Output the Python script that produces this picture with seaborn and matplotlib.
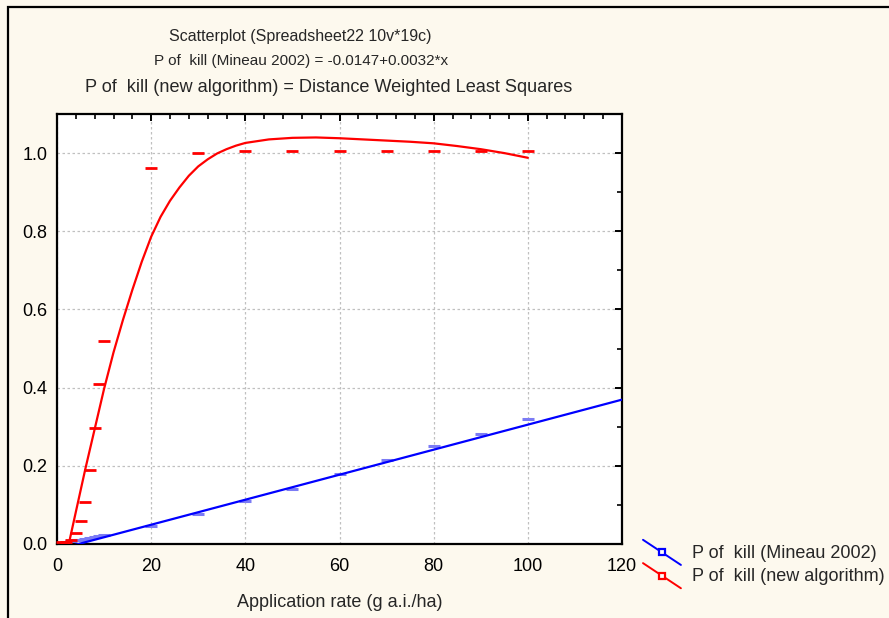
import numpy as np
import pandas as pd
import matplotlib
matplotlib.use("Agg")
import matplotlib.pyplot as plt
import seaborn as sns
from matplotlib.lines import Line2D
from matplotlib.legend_handler import HandlerLine2D
from matplotlib.patches import Rectangle
from matplotlib.ticker import MultipleLocator

# ---- data ----
rate = [1, 2, 3, 4, 5, 6, 7, 8, 9, 10, 20, 30, 40, 50, 60, 70, 80, 90, 100]
p_new = [0.005, 0.005, 0.010, 0.028, 0.060, 0.107, 0.190, 0.296, 0.410, 0.520,
         0.962, 1.000, 1.005, 1.005, 1.005, 1.005, 1.005, 1.005, 1.005]
p_mineau = [0.002, 0.004, 0.007, 0.009, 0.011, 0.013, 0.015, 0.018, 0.020, 0.023,
            0.046, 0.076, 0.110, 0.140, 0.179, 0.216, 0.251, 0.282, 0.319]

# fitted linear model: -0.0147 + 0.0032*x, endpoints of the plotted range
lin_x = [0, 120]
lin_y = [-0.0147, -0.0147 + 0.0032 * 120]

# distance weighted least squares curve
dwls_x = [2.5, 4, 6, 8, 10, 12, 14, 16, 18, 20, 22, 24, 26, 28, 30, 32, 34, 36,
          38, 40, 45, 50, 55, 60, 65, 70, 75, 80, 85, 90, 95, 100]
dwls_y = [0.0, 0.082, 0.191, 0.294, 0.397, 0.49, 0.573, 0.65, 0.722, 0.786,
          0.837, 0.878, 0.912, 0.942, 0.966, 0.984, 0.999, 1.01, 1.019, 1.026,
          1.035, 1.039, 1.04, 1.038, 1.035, 1.032, 1.029, 1.025, 1.018, 1.01,
          1.0, 0.988]

x_ticks = [0, 20, 40, 60, 80, 100, 120]
y_ticks = [0.0, 0.2, 0.4, 0.6, 0.8, 1.0]

title_lines = ["Scatterplot (Spreadsheet22 10v*19c)",
               "P of  kill (Mineau 2002) = -0.0147+0.0032*x",
               "P of  kill (new algorithm) = Distance Weighted Least Squares"]
legend_labels = ["P of  kill (Mineau 2002)", "P of  kill (new algorithm)"]
x_label = "Application rate (g a.i./ha)"

# ---- style ----
sns.set_style("white")
plt.rcParams['font.family'] = ['Liberation Sans', 'DejaVu Sans']

BG = '#FDF9EE'
RED = '#FF0000'
BLUE = '#0000FF'
LBLUE = '#7B7BF5'
FS = 13

W, H = 889, 618
fig = plt.figure(figsize=(W / 100, H / 100), dpi=100, facecolor=BG)
ax = fig.add_axes([57 / W, 1 - 544 / H, (622 - 57) / W, (544 - 114) / H])
ax.set_facecolor('white')

df_pts = pd.DataFrame({'rate': rate, 'new': p_new, 'mineau': p_mineau})
df_lin = pd.DataFrame({'x': lin_x, 'y': lin_y})
df_dwls = pd.DataFrame({'x': dwls_x, 'y': dwls_y})

sns.lineplot(data=df_lin, x='x', y='y', ax=ax, color=BLUE, linewidth=1.6,
             zorder=3, legend=False)
sns.lineplot(data=df_dwls, x='x', y='y', ax=ax, color=RED, linewidth=1.6,
             zorder=4, legend=False)
sns.scatterplot(data=df_pts, x='rate', y='mineau', ax=ax, marker='_', s=70,
                linewidth=2.2, color=LBLUE, edgecolor=LBLUE, zorder=2,
                legend=False, clip_on=False)
sns.scatterplot(data=df_pts, x='rate', y='new', ax=ax, marker='_', s=70,
                linewidth=2.0, color=RED, edgecolor=RED, zorder=5,
                legend=False, clip_on=False)

ax.set_xlim(0, 120)
ax.set_ylim(0, 1.1)
ax.set_xticks(x_ticks)
ax.set_yticks(y_ticks)
ax.set_yticklabels([f"{v:.1f}" for v in y_ticks])
ax.xaxis.set_minor_locator(MultipleLocator(4))
ax.yaxis.set_minor_locator(MultipleLocator(0.1))
ax.tick_params(which='both', direction='in', top=True, right=True,
               labelsize=FS, colors='black')
ax.tick_params(axis='x', which='both', pad=10)
ax.tick_params(axis='y', which='both', pad=7)
ax.tick_params(which='major', length=5, width=1.4)
ax.tick_params(which='minor', length=3.5, width=1.2)
ax.grid(True, which='major', color='#C0C0C0', linestyle=(0, (2, 2)),
        linewidth=0.9)
for s in ax.spines.values():
    s.set_color('black')
    s.set_linewidth(1.6)
    s.set_visible(True)
ax.set_xlabel(x_label, fontsize=FS, labelpad=14)
ax.set_ylabel('')

# titles
for txt, xp, yp, fs in zip(title_lines, [300, 301, 329], [37, 61, 87],
                           [11.5, 11.0, 13.1]):
    fig.text(xp / W, 1 - yp / H, txt, ha='center', va='center', fontsize=fs)

# figure border (top and left only visible)
fig.add_artist(Rectangle((8 / W, -0.2), 1.5, 1.2 - 7 / H,
                         transform=fig.transFigure, fill=False,
                         edgecolor='black', linewidth=1.6))


class SlantHandler(HandlerLine2D):
    def create_artists(self, legend, orig_handle, xdescent, ydescent,
                       width, height, fontsize, trans):
        x0, x1 = -xdescent, -xdescent + width
        ytop = -ydescent + height + 4
        ybot = -ydescent - 5
        line = Line2D([x0, x1], [ytop, ybot], color=orig_handle.get_color(),
                      linewidth=1.4)
        mk = Line2D([(x0 + x1) / 2], [(ytop + ybot) / 2], linestyle='none',
                    marker='s', markersize=5, markerfacecolor='white',
                    markeredgecolor=orig_handle.get_color(),
                    markeredgewidth=1.6)
        line.set_transform(trans)
        mk.set_transform(trans)
        return [line, mk]


h1 = Line2D([], [], color=BLUE)
h2 = Line2D([], [], color=RED)
fig.legend([h1, h2], legend_labels, loc='upper left',
           bbox_to_anchor=(643 / W, 1 - 545 / H), frameon=False,
           fontsize=FS, handlelength=2.1, handletextpad=0.6,
           labelspacing=0.35, borderpad=0, borderaxespad=0,
           handler_map={Line2D: SlantHandler()})

fig.savefig('out.png', dpi=100, facecolor=BG)
